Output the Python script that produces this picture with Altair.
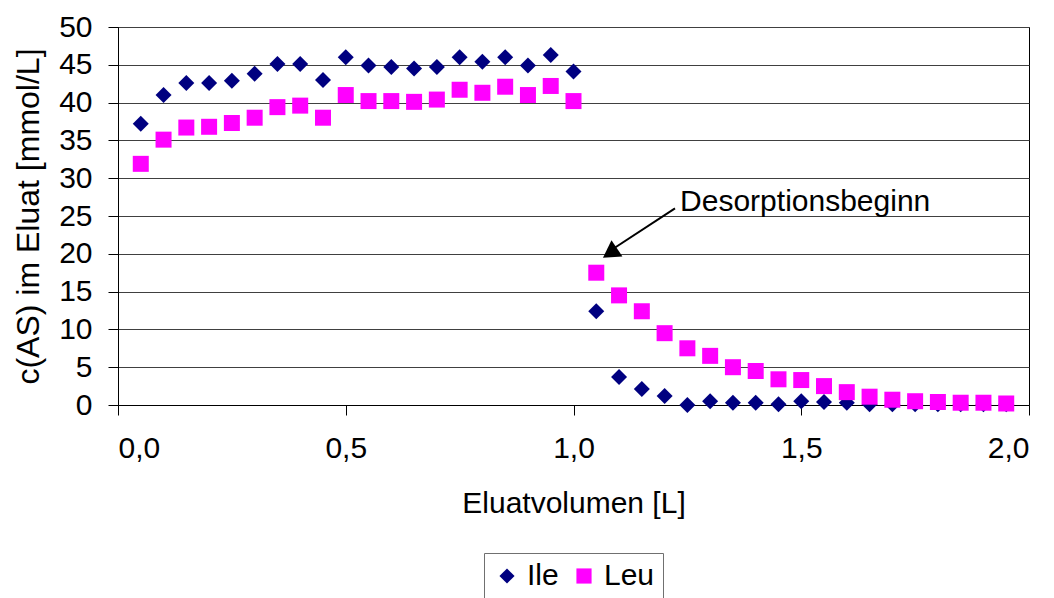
import altair as alt
import pandas as pd

volumes = [0.05, 0.10, 0.15, 0.20, 0.25, 0.30, 0.35, 0.40, 0.45, 0.50,
           0.55, 0.60, 0.65, 0.70, 0.75, 0.80, 0.85, 0.90, 0.95, 1.00,
           1.05, 1.10, 1.15, 1.20, 1.25, 1.30, 1.35, 1.40, 1.45, 1.50,
           1.55, 1.60, 1.65, 1.70, 1.75, 1.80, 1.85, 1.90, 1.95]

ile = [37.2, 41.0, 42.6, 42.6, 42.9, 43.8, 45.1, 45.1, 43.0, 46.0,
       44.9, 44.7, 44.5, 44.7, 46.0, 45.4, 46.0, 44.9, 46.3, 44.1,
       12.4, 3.7, 2.1, 1.2, 0.0, 0.5, 0.3, 0.3, 0.1, 0.5,
       0.4, 0.3, 0.1, 0.1, 0.1, 0.1, 0.1, 0.1, 0.1]

leu = [31.9, 35.1, 36.7, 36.8, 37.3, 38.0, 39.4, 39.6, 38.0, 41.0,
       40.2, 40.2, 40.1, 40.4, 41.7, 41.3, 42.1, 41.0, 42.2, 40.2,
       17.5, 14.5, 12.4, 9.5, 7.5, 6.5, 5.0, 4.5, 3.4, 3.3,
       2.5, 1.7, 1.1, 0.7, 0.5, 0.4, 0.3, 0.3, 0.2]

series_names = ["Ile", "Leu"]
series_colors = ["#000080", "#FF00FF"]
series_shapes = ["diamond", "square"]

x_ticks = [0.0, 0.5, 1.0, 1.5, 2.0]
y_ticks = [0, 5, 10, 15, 20, 25, 30, 35, 40, 45, 50]

annot_text = ["Desorptionsbeginn"]
annot_text_x = [1.234]
annot_text_y = [25.6]
arrow_x = [1.2228]
arrow_y = [26.0]
arrow_x2 = [1.078]
arrow_y2 = [20.3]
head_x = [1.080]
head_y = [20.1]

FONT = "Liberation Sans"
FS = 30

df = pd.DataFrame({
    "vol": volumes * 2,
    "c": ile + leu,
    "AS": ["Ile"] * len(ile) + ["Leu"] * len(leu),
})

X = alt.X("vol:Q", scale=alt.Scale(domain=[0, 2]),
          axis=alt.Axis(values=x_ticks, title="Eluatvolumen [L]", grid=False,
                        labelExpr="replace(format(datum.value, '.1f'), '.', ',')",
                        tickSize=10, labelPadding=18,
                        titleBaseline="alphabetic", titleY=107))
Y = alt.Y("c:Q", scale=alt.Scale(domain=[0, 50]),
          axis=alt.Axis(values=y_ticks, title="c(AS) im Eluat [mmol/L]", grid=True,
                        gridColor="#404040", gridWidth=1, gridOpacity=1,
                        tickSize=10, labelPadding=16, titleFontSize=32,
                        titleAngle=-90, titleX=-90, titleY=189,
                        titleBaseline="middle", titleAlign="center"))

points = alt.Chart(df).mark_point(filled=True, opacity=1, strokeWidth=0, size=256).encode(
    x=X, y=Y,
    color=alt.Color("AS:N", scale=alt.Scale(domain=series_names, range=series_colors),
                    legend=alt.Legend(title=None, orient="none", direction="horizontal",
                                      legendX=366, legendY=526,
                                      strokeColor="#707070", fillColor="white",
                                      padding=8, symbolSize=230, labelFontSize=FS,
                                      labelFont=FONT, columnPadding=10, labelOffset=5,
                                      symbolStrokeWidth=0)),
    shape=alt.Shape("AS:N", scale=alt.Scale(domain=series_names, range=series_shapes)),
    order=alt.Order("AS:N"),
)

adf = pd.DataFrame({"t": annot_text, "vol": annot_text_x, "c": annot_text_y})
text = alt.Chart(adf).mark_text(align="left", baseline="alphabetic", font=FONT,
                                fontSize=FS, color="black").encode(x=X, y=Y, text="t:N")

rdf = pd.DataFrame({"vol": arrow_x, "c": arrow_y, "vol2": arrow_x2, "c2": arrow_y2})
rule = alt.Chart(rdf).mark_rule(color="black", strokeWidth=2).encode(
    x=X, y=Y, x2="vol2:Q", y2="c2:Q")

hdf = pd.DataFrame({"vol": head_x, "c": head_y})
head = alt.Chart(hdf).mark_point(shape="triangle-up", filled=True, color="black",
                                 opacity=1, size=380, angle=236, strokeWidth=0).encode(
    x=X, y=Y)

chart = alt.layer(points, rule, head, text).properties(
    width=911, height=378,
    background="white",
    autosize=alt.AutoSizeParams(type="none"),
    padding={"left": 110, "top": 19, "right": 10, "bottom": 200},
).configure_view(stroke="black", strokeWidth=1).configure_axis(
    labelFont=FONT, titleFont=FONT, labelFontSize=FS, titleFontSize=FS,
    titleFontWeight="normal", labelColor="black", titleColor="black",
    domainColor="black", tickColor="black", domainWidth=1,
)

chart.save("out.html", embed_options={"renderer": "svg", "actions": False})
